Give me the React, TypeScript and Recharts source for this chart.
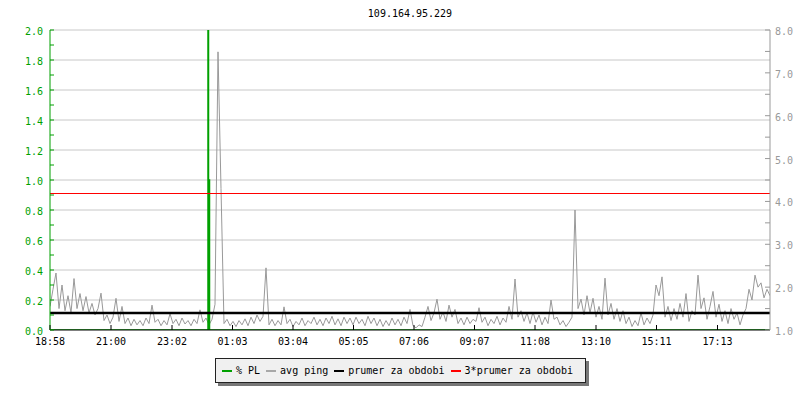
import { LineChart, Line, XAxis, YAxis, CartesianGrid, ReferenceLine } from "recharts";

const TITLE = "109.164.95.229";

// x axis: minutes since 18:58, 24h window
const TIME_TICKS = [0, 122, 244, 365, 486, 607, 728, 849, 970, 1092, 1213, 1335];
const TIME_LABELS = ["18:58", "21:00", "23:02", "01:03", "03:04", "05:05", "07:06", "09:07", "11:08", "13:10", "15:11", "17:13"];

// avg ping, one sample every 6 minutes (right axis)
const PING_STEP = 6;
const PING_VALUES = [
    1.55, 1.95, 2.33, 1.5, 2.05, 1.45, 1.8, 1.4, 2.2, 1.5,
    1.85, 1.45, 1.78, 1.4, 1.62, 1.35, 1.5, 1.86, 1.22, 1.35,
    1.15, 1.3, 1.74, 1.2, 1.55, 1.15, 1.28, 1.1, 1.25, 1.12,
    1.22, 1.1, 1.28, 1.15, 1.58, 1.18, 1.25, 1.1, 1.22, 1.12,
    1.38, 1.15, 1.25, 1.1, 1.28, 1.14, 1.22, 1.1, 1.25, 1.15,
    1.47, 1.18, 1.28, 1.12, 1.25, 1.6, 7.49, 4.3, 1.15, 1.25,
    1.1, 1.2, 1.08, 1.22, 1.12, 1.26, 1.1, 1.3, 1.15, 1.35,
    1.2, 1.32, 2.45, 1.12, 1.25, 1.1, 1.22, 1.12, 1.54, 1.15,
    1.25, 1.08, 1.2, 1.12, 1.28, 1.1, 1.22, 1.15, 1.3, 1.12,
    1.25, 1.1, 1.28, 1.15, 1.32, 1.12, 1.26, 1.1, 1.3, 1.15,
    1.28, 1.12, 1.3, 1.15, 1.25, 1.1, 1.32, 1.15, 1.28, 1.1,
    1.25, 1.08, 1.22, 1.1, 1.28, 1.12, 1.25, 1.1, 1.3, 1.15,
    1.48, 1.1, 1.05, 1.12, 1.08, 1.3, 1.55, 1.22, 1.4, 1.72,
    1.25, 1.42, 1.2, 1.58, 1.3, 1.48, 1.15, 1.28, 1.12, 1.3,
    1.15, 1.25, 1.2, 1.52, 1.18, 1.3, 1.1, 1.25, 1.15, 1.32,
    1.12, 1.28, 1.18, 1.55, 1.25, 2.19, 1.3, 1.45, 1.2, 1.4,
    1.15, 1.42, 1.18, 1.35, 1.12, 1.3, 1.15, 1.7, 1.25, 1.3,
    1.12, 1.22, 1.08, 1.18, 1.3, 3.8, 1.5, 1.72, 1.35, 1.8,
    1.4, 1.74, 1.3, 1.55, 1.25, 2.21, 1.35, 1.62, 1.25, 1.5,
    1.2, 1.45, 1.15, 1.3, 1.08, 1.22, 1.1, 1.4, 1.12, 1.28,
    1.15, 1.35, 2.05, 1.8, 2.24, 1.3, 1.55, 1.22, 1.5, 1.25,
    1.62, 1.3, 1.85, 1.2, 1.45, 1.35, 2.28, 1.5, 1.75, 1.25,
    1.55, 1.9, 1.3, 1.6, 1.2, 1.45, 1.15, 1.5, 1.25, 1.4,
    1.12, 1.35, 1.5, 1.95, 1.7, 2.28, 2.0, 2.1, 1.75, 1.95,
    1.8,
];

// packet loss (left axis)
const PL_TIMES = [0, 316, 317, 319, 1440];
const PL_VALUES = [0, 2, 1, 0, 0];

const AVG_PING = 1.395;

const PL_TICKS = [0, 0.1, 0.2, 0.3, 0.4, 0.5, 0.6, 0.7, 0.8, 0.9, 1.0, 1.1, 1.2, 1.3, 1.4, 1.5, 1.6, 1.7, 1.8, 1.9, 2.0];
const PL_LABELS = [0, 0.2, 0.4, 0.6, 0.8, 1.0, 1.2, 1.4, 1.6, 1.8, 2.0];
const PING_TICKS = [1, 1.5, 2, 2.5, 3, 3.5, 4, 4.5, 5, 5.5, 6, 6.5, 7, 7.5, 8];
const PING_LABELS = [1, 2, 3, 4, 5, 6, 7, 8];

const GREEN = "#00a000";
const GRAY = "#999999";
const FONT = "'DejaVu Sans Mono', monospace";

const LEGEND = [
    { name: "% PL", color: GREEN },
    { name: "avg ping", color: "#a8a8a8" },
    { name: "prumer za obdobi", color: "#000000" },
    { name: "3*prumer za obdobi", color: "#ff0000" },
];

const pingData = PING_VALUES.map((v, i) => ({ t: i * PING_STEP, ping: v }));
const plData = PL_TIMES.map((t, i) => ({ t, pl: PL_VALUES[i] }));

const isLabel = (list: number[], v: number) => list.some((l) => Math.abs(l - v) < 1e-6);

function TimeTick({ x, y, payload }: any) {
    const idx = TIME_TICKS.indexOf(payload.value);
    return (
        <g>
            <line x1={x} x2={x} y1={y - 5} y2={y} stroke="#000" />
            <text x={x} y={y + 15} textAnchor="middle" fontSize={10} fontFamily={FONT} fill="#000">
                {TIME_LABELS[idx]}
            </text>
        </g>
    );
}

function PlTick({ x, y, payload }: any) {
    const v = payload.value;
    return (
        <g>
            <line x1={x + 7} x2={x + 11} y1={y} y2={y} stroke={GREEN} />
            {isLabel(PL_LABELS, v) && (
                <text x={x} y={y + 5} textAnchor="end" fontSize={10} fontFamily={FONT} fill={GREEN}>
                    {v.toFixed(1)}
                </text>
            )}
        </g>
    );
}

function PingTick({ x, y, payload }: any) {
    const v = payload.value;
    return (
        <g>
            <line x1={x - 10} x2={x - 5} y1={y} y2={y} stroke={GRAY} />
            {isLabel(PING_LABELS, v) && (
                <text x={x} y={y + 5} textAnchor="start" fontSize={10} fontFamily={FONT} fill={GRAY}>
                    {v.toFixed(1)}
                </text>
            )}
        </g>
    );
}

export default function App() {
    return (
        <div style={{ position: "absolute", left: 0, top: 0, width: 800, height: 400, background: "#fff", fontFamily: FONT }}>
            <div
                style={{
                    position: "absolute",
                    left: 310,
                    top: 8,
                    width: 200,
                    textAlign: "center",
                    fontSize: 10,
                    lineHeight: "12px",
                    color: "#000",
                }}
            >
                {TITLE}
            </div>

            <LineChart width={800} height={400} margin={{ top: 30, right: 0, bottom: 40, left: 0 }}>
                <CartesianGrid
                    yAxisId="pl"
                    vertical={false}
                    horizontalValues={PL_LABELS.slice(1)}
                    stroke="#c8c8c8"
                />
                <XAxis
                    dataKey="t"
                    type="number"
                    domain={[0, 1440]}
                    ticks={TIME_TICKS}
                    allowDataOverflow
                    height={30}
                    tickSize={0}
                    tickMargin={0}
                    tick={<TimeTick />}
                    tickLine={false}
                    axisLine={{ stroke: "#000" }}
                    interval={0}
                />
                <YAxis
                    yAxisId="pl"
                    domain={[0, 2]}
                    ticks={PL_TICKS}
                    width={50}
                    tickSize={0}
                    tickMargin={7}
                    tick={<PlTick />}
                    tickLine={false}
                    axisLine={{ stroke: GREEN }}
                    interval={0}
                    allowDataOverflow
                />
                <YAxis
                    yAxisId="ping"
                    orientation="right"
                    domain={[1, 8]}
                    ticks={PING_TICKS}
                    width={30}
                    tickSize={0}
                    tickMargin={5}
                    tick={<PingTick />}
                    tickLine={false}
                    axisLine={{ stroke: GRAY }}
                    interval={0}
                    allowDataOverflow
                />
                <Line
                    yAxisId="ping"
                    data={pingData}
                    dataKey="ping"
                    type="linear"
                    stroke={GRAY}
                    strokeWidth={1}
                    dot={false}
                    isAnimationActive={false}
                />
                <Line
                    yAxisId="pl"
                    data={plData}
                    dataKey="pl"
                    type="stepAfter"
                    stroke={GREEN}
                    strokeWidth={1.5}
                    dot={false}
                    isAnimationActive={false}
                />
                <ReferenceLine yAxisId="ping" y={AVG_PING} stroke="#000" strokeWidth={2.5} />
                <ReferenceLine yAxisId="ping" y={AVG_PING * 3} stroke="#ff0000" strokeWidth={1} />
            </LineChart>

            {/* Legend */}
            <div
                style={{
                    position: "absolute",
                    left: 215,
                    top: 358,
                    width: 363,
                    height: 23,
                    border: "1px solid #222",
                    background: "#f0f0f0",
                    boxShadow: "3px 3px 0 #777",
                    display: "flex",
                    alignItems: "center",
                    paddingLeft: 6,
                    boxSizing: "content-box",
                    fontSize: 10,
                    color: "#000",
                }}
            >
                {LEGEND.map((item) => (
                    <div key={item.name} style={{ display: "flex", alignItems: "center", marginRight: 6 }}>
                        <span style={{ display: "inline-block", width: 10, height: 2, background: item.color, marginRight: 4 }} />
                        <span style={{ whiteSpace: "pre" }}>{item.name}</span>
                    </div>
                ))}
            </div>
        </div>
    );
}
